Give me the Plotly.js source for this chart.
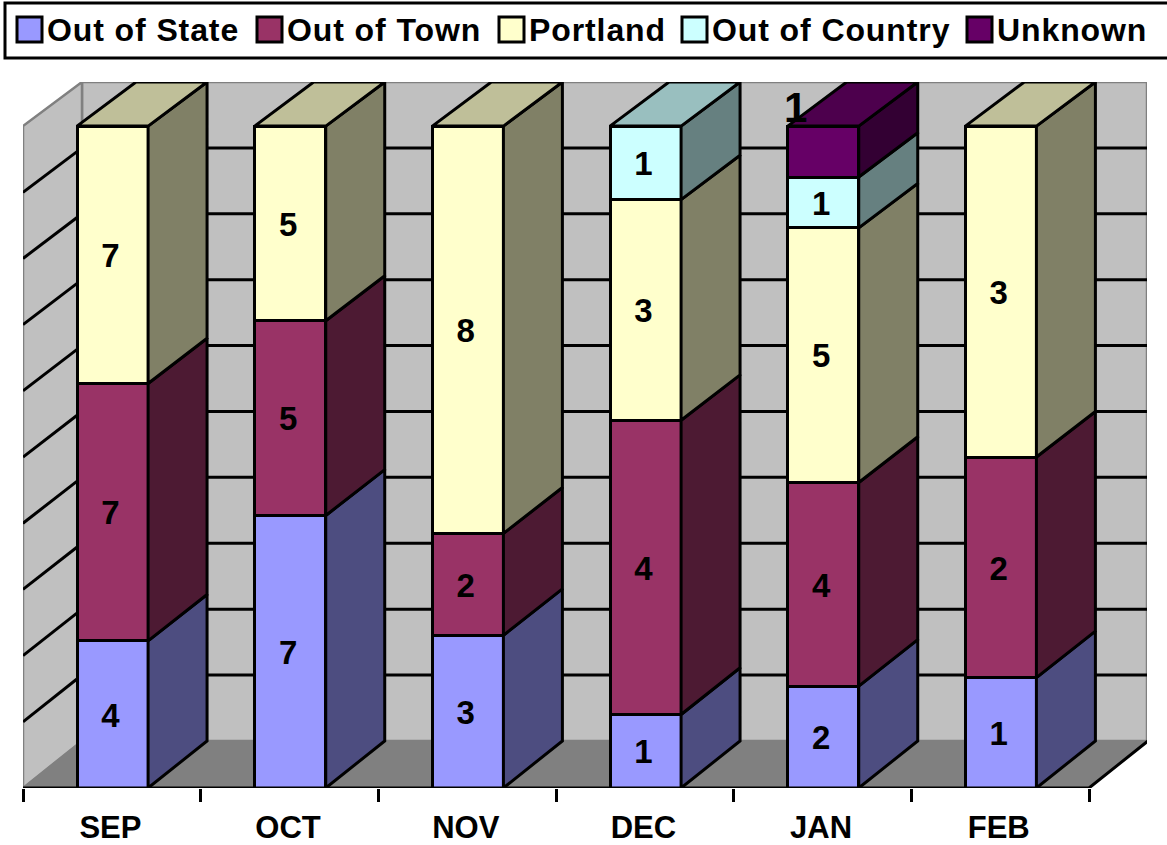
<!DOCTYPE html>
<html>
<head>
<meta charset="utf-8">
<script src="https://cdn.plot.ly/plotly-3.0.1.min.js"></script>
<style>
html,body{margin:0;padding:0;background:#fff;overflow:hidden}
.annotation-text{letter-spacing:0.9px}
</style>
</head>
<body>
<div id="chart" style="width:1167px;height:845px"></div>
<script>
// ---- data ----
const months = ["SEP","OCT","NOV","DEC","JAN","FEB"];
const outOfState   = [4,7,3,1,2,1];
const outOfTown    = [7,5,2,4,4,2];
const portland     = [7,5,8,3,5,3];
const outOfCountry = [0,0,0,1,1,0];
const unknown      = [0,0,0,0,1,0];
const seriesNames  = ["Out of State","Out of Town","Portland","Out of Country","Unknown"];
const seriesValues = [outOfState,outOfTown,portland,outOfCountry,unknown];
const frontColors  = ["#9999FF","#993366","#FFFFCC","#CCFFFF","#660066"];
const sideColors   = ["#4D4D80","#4D1A33","#808066","#668080","#330033"];
const topColors    = ["#7373BF","#73264D","#BFBF99","#99BFBF","#4D004D"];
const gridSteps    = [10,20,30,40,50,60,70,80,90];

// ---- geometry ----
const W=1167,H=845,mL=23,mR=20,mT=82,mB=57;
const depthX=0.332, barW=0.4;
const nCat=months.length;
const yMax=106.66;
const backY=v=>7.11+v*0.9955;           // height on the back plane of a value on the front plane
const xMax=(W-mL-mR)/((1089-23)/nCat);
const centers=months.map((_,i)=>i+0.504);
const FONT='"Liberation Sans", Arial, sans-serif';
const px=x=>(x-mL)/(W-mL-mR), py=y=>1-(y-mT)/(H-mT-mB);
const INK=3;

const totals=months.map((_,i)=>seriesValues.reduce((s,v)=>s+v[i],0));

// front faces: percent-stacked bars
const traces=seriesNames.map((name,s)=>({
  type:"bar",name,x:centers,y:seriesValues[s].map(v=>v||null),width:barW,
  marker:{color:frontColors[s],line:{color:"#000",width:INK}},
  hoverinfo:"name+y",cliponaxis:false,showlegend:false
}));

// side and top faces, computed from the same values
const cum=months.map(()=>0);
const lblX=[],lblY=[],lblT=[];
seriesNames.forEach((name,s)=>{
  const sx=[],sy=[],tx=[],ty=[];
  months.forEach((_,i)=>{
    const v=seriesValues[s][i]; if(!v) return;
    const lo=cum[i]/totals[i]*100; cum[i]+=v; const hi=cum[i]/totals[i]*100;
    const l=centers[i]-barW/2,r=centers[i]+barW/2;
    sx.push(r,r+depthX,r+depthX,r,r,null); sy.push(lo,backY(lo),backY(hi),hi,lo,null);
    if(cum[i]===totals[i]){
      tx.push(l,l+depthX,r+depthX,r,l,null); ty.push(hi,backY(hi),backY(hi),hi,hi,null);
    }
    if(s!==4){ lblX.push(centers[i]-0.012); lblY.push((lo+hi)/2-0.6); lblT.push(String(v)); }
  });
  traces.push({type:"scatter",mode:"lines",name:name+" side",x:sx,y:sy,fill:"toself",fillcolor:sideColors[s],
    line:{color:"#000",width:INK},hoverinfo:"skip",showlegend:false,cliponaxis:false});
  if(tx.length) traces.push({type:"scatter",mode:"lines",name:name+" top",x:tx,y:ty,fill:"toself",fillcolor:topColors[s],
    line:{color:"#000",width:INK},hoverinfo:"skip",showlegend:false,cliponaxis:false});
});

// category axis baseline and floor front-right edge
traces.push({type:"scatter",mode:"lines",name:"axis",x:[0,nCat,nCat+depthX],y:[0,0,backY(0)],
  line:{color:"#000",width:INK},hoverinfo:"skip",showlegend:false,cliponaxis:false});

// value labels
traces.push({type:"scatter",mode:"text",name:"labels",x:lblX,y:lblY,text:lblT,textposition:"middle center",
  textfont:{family:FONT,size:33,color:"#000",weight:"bold"},hoverinfo:"skip",showlegend:false,cliponaxis:false});

// walls, floor, gridlines
const GREY="#808080";
const poly=(pts,fill,col,w)=>({type:"path",xref:"x",yref:"y",layer:"below",
  path:"M"+pts.map(p=>p.join(",")).join("L")+"Z",fillcolor:fill,line:{color:col,width:w}});
const seg=(x0,y0,x1,y1,col,w)=>({type:"line",xref:"x",yref:"y",layer:"below",x0,y0,x1,y1,line:{color:col,width:w}});
const shapes=[
  poly([[depthX,backY(0)],[xMax,backY(0)],[xMax,yMax],[depthX,yMax]],"#C0C0C0",GREY,2.5),
  poly([[0,0],[depthX,backY(0)],[depthX,yMax],[0,100]],"#C0C0C0",GREY,2.5),
  poly([[0,0],[depthX,backY(0)],[xMax,backY(0)],[nCat,0]],"#808080",GREY,1.5)
];
gridSteps.forEach(v=>{
  shapes.push(seg(depthX,backY(v),xMax,backY(v),"#000",INK));
  shapes.push(seg(0,v,depthX,backY(v),"#000",INK));
});

// legend box (paper coordinates)
const swatchX=[17,257,499,682,967], labelX=[46,286,528,711,996];
shapes.push({type:"rect",xref:"paper",yref:"paper",layer:"above",x0:px(5),x1:px(1172),y0:py(58),y1:py(3),
  fillcolor:"#fff",line:{color:"#000",width:3}});
seriesNames.forEach((n,s)=>shapes.push({type:"rect",xref:"paper",yref:"paper",layer:"above",
  x0:px(swatchX[s]),x1:px(swatchX[s]+25),y0:py(42),y1:py(17),fillcolor:frontColors[s],line:{color:"#000",width:3}}));
const annotations=seriesNames.map((n,s)=>({xref:"paper",yref:"paper",x:px(labelX[s]),y:py(30),
  text:"<b>"+n+"</b>",showarrow:false,xanchor:"left",yanchor:"middle",
  font:{family:FONT,size:32,color:"#000"},borderpad:0}));

// the oversized label of the January "Unknown" segment
const jan=months.indexOf("JAN");
annotations.push({xref:"x",yref:"y",x:centers[jan]-barW/2+0.045,y:100+2.8,
  text:"<b>"+unknown[jan]+"</b>",showarrow:false,xanchor:"center",yanchor:"middle",
  font:{family:FONT,size:42,color:"#000"},borderpad:0});

const layout={
  width:W,height:H,margin:{l:mL,r:mR,t:mT,b:mB,pad:0},
  paper_bgcolor:"#fff",plot_bgcolor:"#fff",
  barmode:"stack",barnorm:"percent",showlegend:false,
  xaxis:{range:[0,xMax],showgrid:false,zeroline:false,showline:false,
    tickmode:"array",tickvals:centers.map(c=>c-0.012),ticktext:months,ticks:"",
    ticklabelstandoff:18,
    tickfont:{family:FONT,size:31,color:"#000",weight:"bold"},
    minor:{tickmode:"array",tickvals:months.map((_,i)=>i).concat([nCat]),ticks:"outside",ticklen:13,tickwidth:3,tickcolor:"#000",showgrid:false}
  },
  yaxis:{range:[0,yMax],visible:false,showgrid:false,zeroline:false},
  shapes,annotations
};
Plotly.newPlot("chart",traces,layout,{displayModeBar:false,staticPlot:true});
</script>
</body>
</html>
